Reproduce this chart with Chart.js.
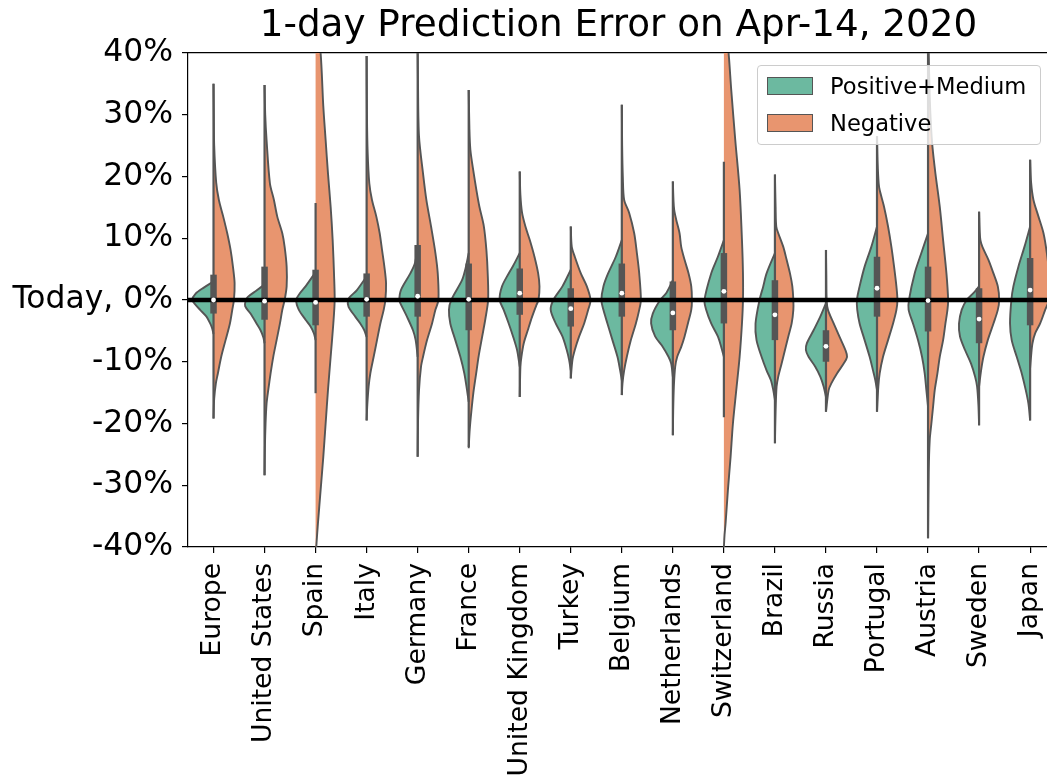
<!DOCTYPE html>
<html><head><meta charset="utf-8">
<script src="https://cdn.jsdelivr.net/npm/chart.js@4/dist/chart.umd.min.js"></script>
<style>
html,body{margin:0;padding:0;background:#fff;overflow:hidden;}
#wrap{position:relative;width:1047px;height:778px;overflow:hidden;}
#c{position:absolute;left:0;top:0;}
#legend{position:absolute;left:757px;top:65px;width:284px;height:80px;background:rgba(255,255,255,0.8);border:1px solid #cccccc;border-radius:4px;box-sizing:border-box;font-family:'DejaVu Sans';font-size:22.6px;color:#000;}
.item{position:absolute;left:9px;height:30px;line-height:30px;display:flex;align-items:center;white-space:nowrap;}
.sw{width:46px;height:18px;border:1.5px solid #555;box-sizing:border-box;margin-right:17px;}
</style></head>
<body>
<div id="wrap">
<canvas id="c" width="1053" height="778"></canvas>
<div id="legend">
  <div class="item" style="top:5px"><span class="sw" style="background:#6cb9a0"></span>Positive+Medium</div>
  <div class="item" style="top:42px"><span class="sw" style="background:#e8956f"></span>Negative</div>
</div>
</div>
<script>
// ---- data (values in %) ----
const categories = ['Europe','United States','Spain','Italy','Germany','France','United Kingdom','Turkey','Belgium','Netherlands','Switzerland','Brazil','Russia','Portugal','Austria','Sweden','Japan'];
const yTicks = [-40,-30,-20,-10,0,10,20,30,40];
const yTickLabels = ['-40%','-30%','-20%','-10%','Today, 0%','10%','20%','30%','40%'];
const seriesNames = ['Positive+Medium','Negative'];

const medians    = [0, -0.2, -0.4, 0.1, 0.6, 0.1, 1.1, -1.4, 1.1, -2.1, 1.4, -2.4, -7.5, 1.9, -0.1, -3.1, 1.6];
const q1         = [-2.2, -3.2, -4.1, -2.7, -2.7, -4.9, -2.4, -4.3, -2.7, -4.9, -3.8, -6.5, -10, -2.7, -5.1, -7, -4.1];
const q3         = [4.1, 5.4, 4.9, 4.3, 8.9, 5.9, 5.1, 1.9, 5.9, 3.0, 7.6, 3.2, -4.9, 7, 5.4, 1.9, 6.8];
const whiskerLow = [-19.2, -28.4, -15.1, -19.5, -25.4, -23.8, -15.7, -12.7, -15.4, -21.9, -19, -23.2, -18.1, -18.1, -38.6, -20.3, -19.5];
const whiskerHigh= [35, 34.8, 15.7, 39.5, 41, 34, 20.8, 11.9, 31.6, 19.2, 22.4, 20.3, 8.1, 26.5, 45, 14.3, 22.7];

// density profiles: [error %, relative density]
const positiveDensity = [
  [[3,0],[2,29],[1,54],[0,64],[-0.5,58],[-1.6,40],[-2.7,21],[-3.8,10],[-4.6,4],[-5.5,0]],
  [[2.5,0],[1.5,25],[0.5,50],[0,56],[-1,58],[-2.2,42],[-3.8,24],[-4.9,12],[-6,4],[-7,0]],
  [[4.5,0],[2.2,30],[1,48],[0,58],[-1.6,50],[-3.2,30],[-4.3,15],[-5.4,5],[-6.5,0]],
  [[3.8,0],[1.6,29],[0.5,50],[0,56],[-1.1,54],[-2.7,34],[-3.8,19],[-4.9,7],[-6,0]],
  [[8.6,0],[6,8],[4.3,22],[1.6,50],[0,55],[-0.5,52],[-2.7,32],[-4.9,14],[-6.5,6],[-9.2,0]],
  [[7.6,0],[5,10],[3.2,20],[0,52],[-1.6,59],[-3.8,55],[-6.5,40],[-9.2,25],[-11.9,13],[-14.6,5],[-16.5,0]],
  [[7.6,0],[5.5,20],[4.3,33],[2.2,53],[0,60],[-1.6,48],[-3.8,33],[-5.9,20],[-8.1,8],[-9.7,3],[-10.8,0]],
  [[4.9,0],[2.2,25],[0,52],[-1.6,60],[-3.8,45],[-5.9,25],[-8.1,12],[-9.7,5],[-11.4,0]],
  [[9.7,0],[7,18],[4.3,41],[2.2,55],[0,61],[-1.6,55],[-3.8,43],[-6.5,28],[-9.2,13],[-11.4,5],[-13,0]],
  [[3.2,0],[1.1,20],[0,38],[-2.2,60],[-3.8,65],[-5.9,53],[-7.6,30],[-9.2,13],[-10.3,5],[-12.4,0]],
  [[9.7,0],[7,18],[4.3,38],[0,58],[-1.6,53],[-3.8,38],[-5.9,18],[-7.6,8],[-9.2,0]],
  [[7.6,0],[4.3,25],[2.2,35],[0,46],[-3.8,58],[-6.5,55],[-9.2,40],[-11.4,25],[-13,12],[-14.6,5],[-16.2,0]],
  [[-0.5,0],[-2.7,17],[-4.9,37],[-7,57],[-8.1,60],[-9.2,52],[-10.8,32],[-12.4,17],[-14,7],[-15.7,0]],
  [[11.9,0],[8.6,17],[5.4,37],[2.2,52],[0,60],[-1.6,59],[-3.8,52],[-6.5,37],[-9.2,22],[-11.4,12],[-13,5],[-14.6,0]],
  [[10.8,0],[7.6,20],[4.3,40],[0,57],[-1.6,58],[-3.8,45],[-6.5,30],[-9.2,18],[-11.9,10],[-14.6,5],[-17.3,0]],
  [[2.2,0],[1.1,17],[0,37],[-1.6,52],[-3.8,60],[-5.9,57],[-8.1,42],[-10.3,24],[-12.4,12],[-14,6],[-17,2],[-20.3,0]],
  [[11.9,0],[8.6,17],[5.4,35],[2.2,50],[0,56],[-3.8,60],[-6.5,55],[-9.2,40],[-11.9,25],[-14.6,13],[-16.8,5],[-19.5,0]]
];
const negativeDensity = [
  [[35,0],[30,1],[25,2],[19,8],[16.2,16],[13.5,29],[10.8,41],[8.1,51],[5.4,58],[2.7,63],[0,61],[-1.6,56],[-3.8,49],[-6.5,36],[-9.2,23],[-11.9,13],[-13.5,7],[-16,2],[-19.2,0]],
  [[34.8,0],[30,2],[25.9,6],[18.9,16],[16.2,28],[13.5,38],[10.8,53],[8.6,60],[5.4,66],[2.2,66],[0,60],[-1.6,53],[-3.8,46],[-6.5,36],[-9.2,26],[-11.9,18],[-14.6,11],[-16.8,6],[-20,3],[-24,1],[-28.4,0]],
  [[47,0],[40,15],[31.4,23],[25.9,30],[20.5,37],[15.1,45],[9.7,51],[4.3,55],[0,57],[-3.8,53],[-9.2,45],[-14.6,37],[-20,30],[-25.4,23],[-30.8,15],[-36.2,7],[-40,2],[-42,0]],
  [[39.5,0],[30,1],[24,3],[18.9,8],[16.2,16],[13.5,29],[10.8,39],[8.1,46],[5.4,53],[2.7,58],[0,56],[-1.6,51],[-3.8,41],[-6.5,31],[-9.2,21],[-11.9,11],[-14,6],[-17,2],[-19.5,0]],
  [[41,0],[35,1],[26.5,4],[20.5,16],[16.2,26],[11.9,40],[7.6,53],[4.3,60],[0,62],[-1.6,53],[-3.8,43],[-6.5,28],[-9.2,16],[-10.8,10],[-14.6,4],[-20,1],[-25.4,0]],
  [[34,0],[28,2],[24.3,5],[20.5,15],[17.8,23],[15.1,32],[12,45],[8,53],[4,57],[0,58],[-3,50],[-6,40],[-9,30],[-12,22],[-15,14],[-18,8],[-21,3],[-24,0]],
  [[20.8,0],[17,2],[14.1,7],[11.9,17],[9.7,30],[7,44],[4.3,55],[2.2,59],[0,56],[-0.8,50],[-2.7,37],[-4.9,24],[-7,12],[-9.2,5],[-10.8,2],[-15.7,0]],
  [[11.9,0],[8.6,3],[7,12],[4.3,30],[2.2,48],[0,59],[-1.6,52],[-3.8,40],[-5.9,25],[-8.1,12],[-9.7,5],[-12.7,0]],
  [[31.6,0],[25,1],[20,3],[16.2,7],[14.1,22],[10.8,37],[7.6,45],[4.3,52],[0,57],[-1.6,52],[-3.8,42],[-6.5,27],[-9.2,15],[-11.4,7],[-13.5,2],[-15.4,0]],
  [[19.2,0],[16,2],[14.6,4],[13,10],[10.8,20],[8.6,25],[6.5,35],[4.3,47],[2.2,55],[0,57],[-1.6,55],[-3.8,45],[-5.9,35],[-7.6,25],[-9.2,13],[-10.8,7],[-14,3],[-18,1],[-21.9,0]],
  [[47,0],[40,14],[34,22],[25.9,34],[17.8,47],[9.7,54],[4.3,57],[0,57],[-3.8,54],[-9.2,47],[-14.6,37],[-20,27],[-25.4,20],[-30.8,12],[-36.2,5],[-38,2],[-40,0]],
  [[20.3,0],[15,2],[11.9,4],[10.8,10],[8.6,25],[6.5,35],[4.3,45],[2.2,52],[0,55],[-1.6,55],[-3.8,50],[-5.9,40],[-8.1,30],[-10.3,20],[-12.4,10],[-14,5],[-18,2],[-23.2,0]],
  [[8.1,0],[4,1],[0,2],[-1.6,6],[-3.8,23],[-5.9,40],[-8.1,58],[-9.2,63],[-10.3,53],[-11.9,33],[-13.5,16],[-14.6,8],[-18.1,0]],
  [[26.5,0],[22,2],[18.9,5],[17.8,8],[15.1,21],[11.9,33],[8.6,43],[5.4,51],[2.2,58],[0,61],[-1.6,58],[-3.8,48],[-6.5,33],[-9.2,18],[-11.9,8],[-14,4],[-18.1,0]],
  [[45,0],[40,2],[33,5],[28,9],[24.9,13],[20.5,22],[15.1,35],[9.7,45],[4.3,55],[0,60],[-1.6,58],[-3.8,52],[-6.5,45],[-9.2,35],[-11.9,28],[-14.6,20],[-17.3,15],[-20,10],[-22.7,5],[-28,2],[-38.6,0]],
  [[14.3,0],[11,2],[9.7,4],[8.6,10],[6.5,28],[4.3,43],[2.2,56],[0,60],[-1.6,56],[-3.8,43],[-6.5,26],[-9.2,13],[-11.4,6],[-14,0]],
  [[22.7,0],[19,3],[16.2,10],[13.5,25],[10.8,40],[7.6,50],[4.3,57],[2,60],[0,57],[-1.6,45],[-3.8,30],[-5.4,15],[-7,7],[-9,3],[-11,0]]
];

// ---- styling ----
const GREEN = '#6cb9a0', ORANGE = '#e8956f', EDGE = '#555555';
const WIDTH_PER_DENSITY = 0.4 / 61;   // category units per density unit
const XMAX = 16.37;
const FONT = 'DejaVu Sans';

const datasets = [];
categories.forEach((c, i) => {
  [[positiveDensity[i], -1, GREEN], [negativeDensity[i], 1, ORANGE]].forEach(([prof, side, col]) => {
    datasets.push({
      type: 'scatter', showLine: true,
      data: prof.map(([v, d]) => ({x: i + side * d * WIDTH_PER_DENSITY, y: v})),
      backgroundColor: col, borderColor: EDGE, borderWidth: 1.9,
      fill: 'shape', tension: 0.3, pointRadius: 0, order: 10
    });
  });
  datasets.push({
    type: 'scatter', showLine: true,
    data: [{x: i, y: whiskerLow[i]}, {x: i, y: whiskerHigh[i]}],
    borderColor: EDGE, borderWidth: 2.2, pointRadius: 0, fill: false, order: 8
  });
  datasets.push({
    type: 'scatter', showLine: true,
    data: [{x: i, y: q1[i]}, {x: i, y: q3[i]}],
    borderColor: EDGE, borderWidth: 6.5, borderCapStyle: 'butt', pointRadius: 0, fill: false, order: 7
  });
});
datasets.push({
  type: 'scatter', showLine: true,
  data: [{x: -0.5, y: 0}, {x: 16.5, y: 0}],
  borderColor: '#000', borderWidth: 4.5, pointRadius: 0, fill: false, order: 3
});
datasets.push({
  type: 'scatter', showLine: false,
  data: medians.map((m, i) => ({x: i, y: m})),
  pointRadius: 2.4, pointBackgroundColor: '#fff', pointBorderWidth: 0, order: 1
});

new Chart(document.getElementById('c'), {
  type: 'scatter',
  data: {datasets},
  options: {
    responsive: false, animation: false, devicePixelRatio: 1,
    layout: {padding: 0},
    plugins: {
      legend: {display: false}, tooltip: {enabled: false},
      title: {display: true, text: '1-day Prediction Error on Apr-14, 2020', fullSize: false,
        font: {family: FONT, size: 37.3, weight: 'normal'}, color: '#000', padding: {top: 4, bottom: 4.2}}
    },
    scales: {
      x: {
        type: 'linear', position: 'bottom', min: -0.5, max: XMAX,
        afterBuildTicks: s => { s.ticks = categories.map((c, i) => ({value: i})); },
        afterFit: s => { s.height = 231; s.paddingLeft = 0; s.paddingRight = 0; },
        ticks: {autoSkip: false, minRotation: 90, maxRotation: 90, padding: 10,
          font: {family: FONT, size: 26.6}, color: '#000',
          callback: v => categories[v]},
        grid: {display: true, drawOnChartArea: false, drawTicks: true, tickLength: 6, color: '#000', lineWidth: 1.2},
        border: {display: true, color: '#000', width: 1.2}
      },
      xTop: {
        type: 'linear', position: 'top', min: -0.5, max: XMAX,
        afterFit: s => { s.height = 0; s.paddingLeft = 0; s.paddingRight = 0; },
        ticks: {display: false},
        grid: {display: true, drawOnChartArea: false, drawTicks: false},
        border: {display: true, color: '#000', width: 1.2}
      },
      y: {
        type: 'linear', min: -40, max: 40,
        afterBuildTicks: s => { s.ticks = yTicks.map(v => ({value: v})); },
        afterFit: s => { s.width = 188; s.paddingTop = 0; s.paddingBottom = 0; },
        ticks: {padding: 9, font: {family: FONT, size: 31.4}, color: '#000',
          callback: v => yTickLabels[yTicks.indexOf(v)]},
        grid: {display: true, drawOnChartArea: false, drawTicks: true, tickLength: 6, color: '#000', lineWidth: 1.2},
        border: {display: true, color: '#000', width: 1.2}
      }
    }
  }
});
</script>
</body></html>
